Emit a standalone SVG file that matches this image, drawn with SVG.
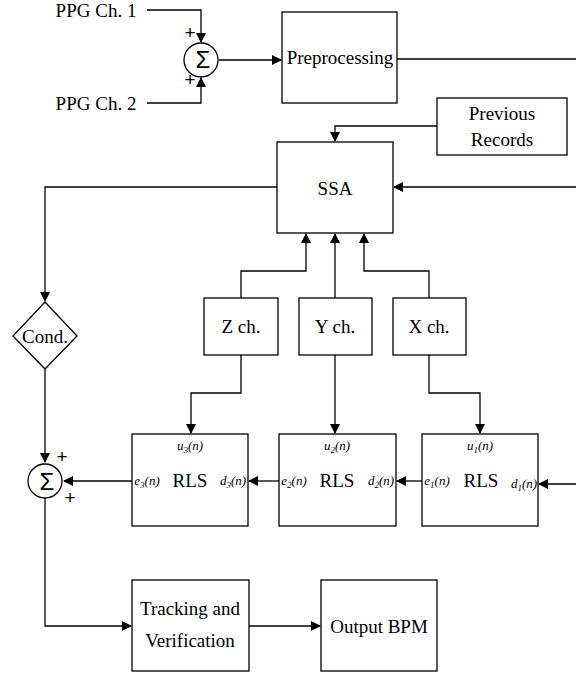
<svg xmlns="http://www.w3.org/2000/svg" width="576" height="675" viewBox="0 0 576 675">
<style>
.b{fill:#fff;stroke:#000;stroke-width:1.3}
.t{font-family:'Liberation Serif','Tinos','Times New Roman','DejaVu Serif',serif;font-size:19px;fill:#000;text-anchor:middle}
.s{font-family:'Liberation Serif','Tinos','Times New Roman','DejaVu Serif',serif;font-size:13px;font-style:italic;fill:#000;text-anchor:middle}
.p{font-family:'Liberation Sans',Arial,sans-serif;font-size:19px;fill:#000;text-anchor:middle}
.g{font-family:'Liberation Sans',Arial,sans-serif;font-size:24px;fill:#000;text-anchor:middle}
.c{fill:none;stroke:#000;stroke-width:1.3}
</style>
<defs>
<marker id="a" markerWidth="10" markerHeight="10" refX="9" refY="5" orient="auto" markerUnits="userSpaceOnUse">
<path d="M0,0 L10,5 L0,10 Z" fill="#000"/>
</marker>
</defs>
<g id="connectors" class="c">
<path d="M147,10 H201 V42" marker-end="url(#a)"/>
<path d="M147,103 H201 V78" marker-end="url(#a)"/>
<path d="M219,60 H281" marker-end="url(#a)"/>
<path d="M397,59 H576"/>
<path d="M437,126 H335 V141" marker-end="url(#a)"/>
<path d="M576,187 H394" marker-end="url(#a)"/>
<path d="M277,187 H45 V301" marker-end="url(#a)"/>
<path d="M241,298 V271 H306 V234" marker-end="url(#a)"/>
<path d="M335,298 V234" marker-end="url(#a)"/>
<path d="M429,298 V271 H364 V234" marker-end="url(#a)"/>
<path d="M241,355 V393 H191 V433" marker-end="url(#a)"/>
<path d="M335,355 V433" marker-end="url(#a)"/>
<path d="M429,355 V393 H480 V433" marker-end="url(#a)"/>
<path d="M576,484 H539" marker-end="url(#a)"/>
<path d="M422,481 H397" marker-end="url(#a)"/>
<path d="M279,481 H249" marker-end="url(#a)"/>
<path d="M132,481 H64" marker-end="url(#a)"/>
<path d="M45,369 V462" marker-end="url(#a)"/>
<path d="M45,498 V626 H131" marker-end="url(#a)"/>
<path d="M249,626 H320" marker-end="url(#a)"/>
</g>
<g id="ppg1"><text class="t" x="96" y="17">PPG Ch. 1</text></g>
<g id="ppg2"><text class="t" x="96" y="110">PPG Ch. 2</text></g>
<g id="sum1">
<circle class="b" cx="201" cy="60" r="17"/>
<text class="g" x="203" y="68">Σ</text>
<text class="p" x="190" y="39">+</text>
<text class="p" x="190" y="86">+</text>
</g>
<g id="preprocessing"><rect class="b" x="282" y="12" width="115" height="91"/><text class="t" x="340" y="64">Preprocessing</text></g>
<g id="previous"><rect class="b" x="437" y="98" width="130" height="57"/><text class="t" x="502" y="120">Previous</text><text class="t" x="502" y="146">Records</text></g>
<g id="ssa"><rect class="b" x="277" y="142" width="116" height="91"/><text class="t" x="335" y="195">SSA</text></g>
<g id="cond"><path class="b" d="M45,302 L77,336 L45,369 L13,336 Z"/><text class="t" x="45" y="343">Cond.</text></g>
<g id="zch"><rect class="b" x="204" y="298" width="74" height="57"/><text class="t" x="241" y="333">Z ch.</text></g>
<g id="ych"><rect class="b" x="299" y="298" width="73" height="57"/><text class="t" x="335" y="333">Y ch.</text></g>
<g id="xch"><rect class="b" x="393" y="298" width="73" height="57"/><text class="t" x="429" y="333">X ch.</text></g>
<g id="rls3"><rect class="b" x="132" y="434" width="116" height="92"/>
<text class="s" x="190" y="450">u<tspan font-size="9" dy="3">3</tspan><tspan dy="-3">(n)</tspan></text>
<text class="t" x="190" y="487">RLS</text>
<text class="s" x="147" y="485">e<tspan font-size="9" dy="3">3</tspan><tspan dy="-3">(n)</tspan></text>
<text class="s" x="233" y="485">d<tspan font-size="9" dy="3">3</tspan><tspan dy="-3">(n)</tspan></text>
</g>
<g id="rls2"><rect class="b" x="279" y="434" width="117" height="92"/>
<text class="s" x="337" y="450">u<tspan font-size="9" dy="3">2</tspan><tspan dy="-3">(n)</tspan></text>
<text class="t" x="337" y="487">RLS</text>
<text class="s" x="294" y="485">e<tspan font-size="9" dy="3">2</tspan><tspan dy="-3">(n)</tspan></text>
<text class="s" x="381" y="485">d<tspan font-size="9" dy="3">2</tspan><tspan dy="-3">(n)</tspan></text>
</g>
<g id="rls1"><rect class="b" x="422" y="434" width="116" height="92"/>
<text class="s" x="480" y="450">u<tspan font-size="9" dy="3">1</tspan><tspan dy="-3">(n)</tspan></text>
<text class="t" x="481" y="487">RLS</text>
<text class="s" x="437" y="485">e<tspan font-size="9" dy="3">1</tspan><tspan dy="-3">(n)</tspan></text>
<text class="s" x="524" y="488">d<tspan font-size="9" dy="3">1</tspan><tspan dy="-3">(n)</tspan></text>
</g>
<g id="sum2">
<circle class="b" cx="45" cy="481" r="17"/>
<text class="g" x="47" y="490">Σ</text>
<text class="p" x="62" y="463">+</text>
<text class="p" x="70" y="504">+</text>
</g>
<g id="tracking"><rect class="b" x="132" y="580" width="117" height="91"/><text class="t" x="190" y="615">Tracking and</text><text class="t" x="190" y="647">Verification</text></g>
<g id="output"><rect class="b" x="321" y="580" width="116" height="91"/><text class="t" x="379" y="633">Output BPM</text></g>
</svg>
